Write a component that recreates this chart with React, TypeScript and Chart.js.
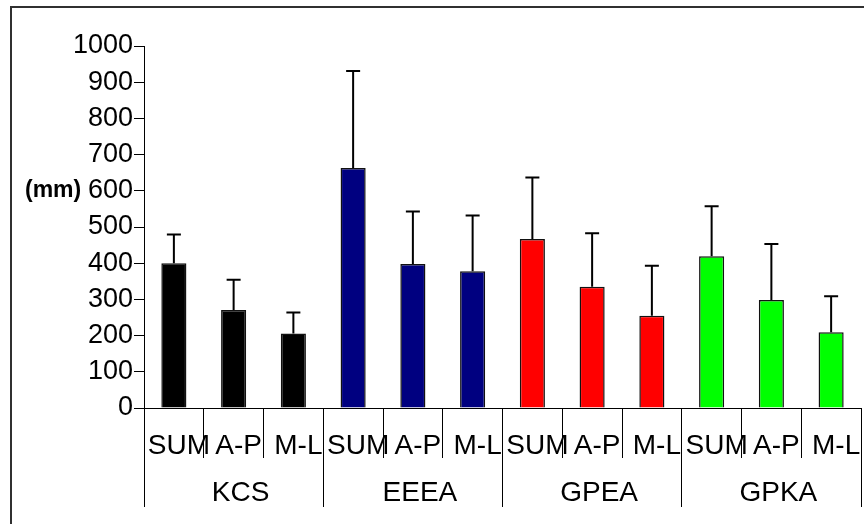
import React, { useEffect, useRef } from "react";
import { Chart, registerables } from "chart.js";

Chart.register(...registerables);

const subLabels = ["SUM", "A-P", "M-L", "SUM", "A-P", "M-L", "SUM", "A-P", "M-L", "SUM", "A-P", "M-L"];
const groups = ["KCS", "EEEA", "GPEA", "GPKA"];
const groupColors = ["#000000", "#000080", "#FF0000", "#00FF00"];
const values = [400, 271, 206, 663, 398, 378, 467, 335, 255, 419, 298, 209];
const errors = [79, 83, 58, 268, 145, 154, 170, 148, 138, 138, 155, 100];
const yTicks = { min: 0, max: 1000, step: 100 };
const yUnit = "(mm)";

const FONT = "'Liberation Sans', Arial, sans-serif";

export default function App() {
  const ref = useRef<HTMLCanvasElement | null>(null);

  useEffect(() => {
    if (!ref.current) return;
    const bg = values.map((_, i) => groupColors[Math.floor(i / 3)]);

    const framePlugin = {
      id: "frame",
      beforeDraw(chart: any) {
        const ctx = chart.ctx;
        ctx.save();
        ctx.fillStyle = "#ffffff";
        ctx.fillRect(0, 0, chart.width, chart.height);
        ctx.strokeStyle = "#303030";
        ctx.lineWidth = 2;
        ctx.beginPath();
        ctx.moveTo(11, chart.height + 2);
        ctx.lineTo(11, 7);
        ctx.lineTo(chart.width + 2, 7);
        ctx.stroke();
        ctx.restore();
      },
      afterDraw(chart: any) {
        const ctx = chart.ctx;
        ctx.save();
        ctx.fillStyle = "#000";
        ctx.font = `bold 23px ${FONT}`;
        ctx.textAlign = "left";
        ctx.textBaseline = "middle";
        ctx.fillText(yUnit, 25, 191);
        ctx.restore();
      },
    };

    const errorPlugin = {
      id: "errbars",
      afterDatasetsDraw(chart: any) {
        const ctx = chart.ctx;
        const meta = chart.getDatasetMeta(0);
        const ys = chart.scales.y;
        ctx.save();
        ctx.strokeStyle = "#000";
        ctx.lineWidth = 2;
        meta.data.forEach((bar: any, i: number) => {
          const x = bar.x;
          const y0 = ys.getPixelForValue(values[i]);
          const y1 = ys.getPixelForValue(values[i] + errors[i]);
          ctx.beginPath();
          ctx.moveTo(x, y0);
          ctx.lineTo(x, y1);
          ctx.moveTo(x - 7, y1);
          ctx.lineTo(x + 7, y1);
          ctx.stroke();
        });
        ctx.restore();
      },
    };

    const chart = new Chart(ref.current, {
      type: "bar",
      data: {
        labels: subLabels,
        datasets: [
          {
            data: values,
            backgroundColor: bg,
            borderColor: "#111111",
            borderWidth: 1.5,
            categoryPercentage: 1,
            barPercentage: 0.42,
          },
        ],
      },
      options: {
        animation: false,
        responsive: false,
        devicePixelRatio: 1,
        layout: { padding: { left: 50, right: 3, top: 46, bottom: 8 } },
        plugins: { legend: { display: false }, tooltip: { enabled: false } },
        scales: {
          y: {
            min: yTicks.min,
            max: yTicks.max,
            afterFit: (s: any) => {
              s.width = 94;
            },
            ticks: {
              stepSize: yTicks.step,
              color: "#000",
              padding: 1,
              font: { family: FONT, size: 27 },
              callback: (v: any) => String(v),
            },
            grid: { drawOnChartArea: false, drawTicks: true, tickLength: 10, color: "#000" },
            border: { color: "#000", width: 1 },
          },
          x: {
            weight: 0,
            afterFit: (s: any) => {
              s.height = 50;
            },
            ticks: {
              color: "#000",
              padding: -29,
              labelOffset: 5,
              maxRotation: 0,
              autoSkip: false,
              font: { family: FONT, size: 28 },
            },
            grid: { offset: true, drawOnChartArea: false, drawTicks: true, tickLength: 50, color: "#000" },
            border: { color: "#000", width: 1 },
          },
          x2: {
            type: "category",
            position: "bottom",
            labels: groups,
            weight: 1,
            afterFit: (s: any) => {
              s.height = 58;
            },
            ticks: {
              color: "#000",
              padding: -31,
              labelOffset: 7,
              maxRotation: 0,
              autoSkip: false,
              font: { family: FONT, size: 28 },
            },
            grid: { offset: true, drawOnChartArea: false, drawTicks: true, tickLength: 49, color: "#000" },
            border: { display: false },
          },
        },
      } as any,
      plugins: [framePlugin, errorPlugin],
    });
    return () => chart.destroy();
  }, []);

  return (
    <div style={{ position: "absolute", left: 0, top: 0, width: 864, height: 524 }}>
      <canvas ref={ref} width={864} height={524} style={{ display: "block" }} />
    </div>
  );
}
